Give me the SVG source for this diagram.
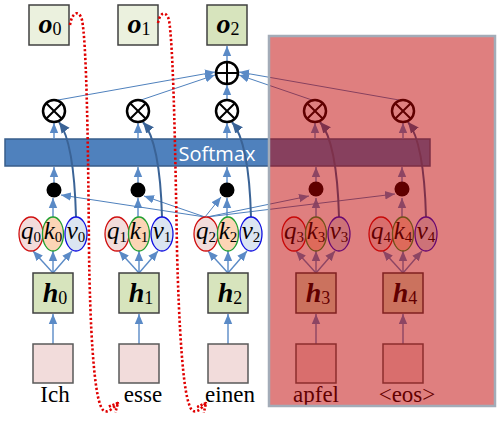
<svg xmlns="http://www.w3.org/2000/svg" width="502" height="424" viewBox="0 0 502 424">
<defs>
<style>
.box{stroke:#404040;stroke-width:1.5}
.out{fill:#ebf1de}
.out2{fill:#d7e4bd}
.hb{fill:#d7e4bd}
.inb{fill:#f2dcdb;stroke:#595959;stroke-width:1.5}
.q{fill:#f2dcdb;stroke:#d01010;stroke-width:1.3}
.k{fill:#fcd5b5;stroke:#20a030;stroke-width:1.3}
.v{fill:#dbe5f1;stroke:#1010e0;stroke-width:1.3}
.op{fill:#fff;stroke:#000;stroke-width:2.5}
.opl{stroke:#000;stroke-width:2}
.ar{stroke:#5a8ac6;stroke-width:1.4;fill:none;marker-end:url(#ma)}
.thin{stroke:#4f81bd;stroke-width:1;fill:none;marker-end:url(#ma)}
.val{stroke:#3a6396;stroke-width:2;fill:none;marker-end:url(#md)}
.red{stroke:#e00000;stroke-width:2.6;stroke-dasharray:2.2 2.2;fill:none;marker-end:url(#mr)}
.m{font-family:"Liberation Serif",serif;font-style:italic;font-size:25px;fill:#000}
.s{font-size:15px;font-style:normal}
.hl{font-family:"Liberation Serif",serif;font-style:italic;font-weight:bold;font-size:28px;fill:#000}
.hs{font-size:18px;font-style:normal;font-weight:normal}
.w{font-family:"Liberation Serif",serif;font-size:23px;fill:#000}
</style>
<marker id="ma" markerUnits="userSpaceOnUse" markerWidth="10" markerHeight="10" viewBox="0 0 10 10" refX="10" refY="5" orient="auto"><path d="M0,0.8 L10,5 L0,9.2 Z" fill="#5a8ac6"/></marker>
<marker id="md" markerUnits="userSpaceOnUse" markerWidth="11" markerHeight="11" viewBox="0 0 10 10" refX="10" refY="5" orient="auto"><path d="M0,0.5 L10,5 L0,9.5 Z" fill="#3a6396"/></marker>
<marker id="mr" markerUnits="userSpaceOnUse" markerWidth="11" markerHeight="11" viewBox="0 0 10 10" refX="9" refY="5" orient="auto"><path d="M1,1 L9,5 L1,9" fill="none" stroke="#e00000" stroke-width="2.4" stroke-dasharray="2 1.5"/></marker>
</defs>
<rect width="502" height="424" fill="#fff"/>

<g id="softmax">
<rect x="5" y="139" width="425" height="27" fill="#4f81bd" stroke="#385d8a" stroke-width="1.5"/>
<text x="217" y="160.5" text-anchor="middle" font-family="'Open Sans',sans-serif" font-size="20" fill="#fff">Softmax</text>
</g>

<g id="connectors">
<line class="ar" x1="53" y1="344" x2="53" y2="314"/>
<line class="ar" x1="139" y1="344" x2="139" y2="314"/>
<line class="ar" x1="228" y1="344" x2="228" y2="314"/>
<line class="ar" x1="316" y1="344" x2="316" y2="314"/>
<line class="ar" x1="403" y1="344" x2="403" y2="314"/>
<line class="ar" x1="53" y1="273" x2="33" y2="251"/><line class="ar" x1="53" y1="273" x2="53" y2="251"/><line class="ar" x1="53" y1="273" x2="72" y2="251"/>
<line class="ar" x1="139" y1="273" x2="119" y2="251"/><line class="ar" x1="139" y1="273" x2="139" y2="251"/><line class="ar" x1="139" y1="273" x2="158" y2="251"/>
<line class="ar" x1="228" y1="273" x2="208" y2="251"/><line class="ar" x1="228" y1="273" x2="228" y2="251"/><line class="ar" x1="228" y1="273" x2="247" y2="251"/>
<line class="ar" x1="316" y1="273" x2="296" y2="251"/><line class="ar" x1="316" y1="273" x2="316" y2="251"/><line class="ar" x1="316" y1="273" x2="335" y2="251"/>
<line class="ar" x1="403" y1="273" x2="383" y2="251"/><line class="ar" x1="403" y1="273" x2="403" y2="251"/><line class="ar" x1="403" y1="273" x2="422" y2="251"/>
<line class="ar" x1="53" y1="217" x2="53" y2="198"/>
<line class="ar" x1="138" y1="217" x2="138" y2="198"/>
<line class="ar" x1="227" y1="217" x2="227" y2="198"/>
<line class="ar" x1="316" y1="217" x2="316" y2="198"/>
<line class="ar" x1="402" y1="217" x2="402" y2="198"/>
<line class="thin" x1="205" y1="217" x2="61" y2="195"/>
<line class="thin" x1="205" y1="217" x2="144" y2="196"/>
<line class="thin" x1="205" y1="217" x2="221" y2="197"/>
<line class="thin" x1="207" y1="217" x2="309" y2="196"/>
<line class="thin" x1="207" y1="217" x2="395" y2="194"/>
<line class="ar" x1="54" y1="183" x2="54" y2="167"/>
<line class="ar" x1="138" y1="183" x2="138" y2="167"/>
<line class="ar" x1="227" y1="183" x2="227" y2="167"/>
<line class="ar" x1="316" y1="183" x2="316" y2="167"/>
<line class="ar" x1="402" y1="183" x2="402" y2="167"/>
<line class="ar" x1="54" y1="139" x2="54" y2="123"/>
<line class="ar" x1="138" y1="139" x2="138" y2="123"/>
<line class="ar" x1="227" y1="139" x2="227" y2="123"/>
<line class="ar" x1="315" y1="139" x2="315" y2="123"/>
<line class="ar" x1="403" y1="139" x2="403" y2="123"/>
<path class="val" d="M76,217 Q74,142 59,122"/>
<path class="val" d="M162,217 Q160,142 143,122"/>
<path class="val" d="M251,217 Q249,142 232,122"/>
<path class="val" d="M339,217 Q337,142 320,122"/>
<path class="val" d="M426,217 Q424,142 408,122"/>
<line class="thin" x1="58" y1="100" x2="215" y2="72"/>
<line class="thin" x1="141" y1="100" x2="215" y2="75"/>
<line class="ar" x1="227" y1="100" x2="227" y2="85"/>
<line class="thin" x1="312" y1="100" x2="239" y2="75"/>
<line class="thin" x1="399" y1="100" x2="239" y2="72"/>
<line class="ar" x1="227" y1="62" x2="227" y2="46"/>
</g>

<g id="o0"><rect class="box out" x="29" y="5" width="40" height="40"/><text class="hl" x="50" y="33" text-anchor="middle">o<tspan class="hs" dy="2">0</tspan></text></g>
<g id="o1"><rect class="box out" x="118" y="5" width="40" height="40"/><text class="hl" x="139" y="33" text-anchor="middle">o<tspan class="hs" dy="2">1</tspan></text></g>
<g id="o2"><rect class="box out2" x="207" y="5" width="40" height="40"/><text class="hl" x="228" y="33" text-anchor="middle">o<tspan class="hs" dy="2">2</tspan></text></g>

<g id="sum"><circle class="op" cx="227" cy="73" r="11"/><line class="opl" x1="216" y1="73" x2="238" y2="73"/><line class="opl" x1="227" y1="62" x2="227" y2="84"/></g>

<g id="mul0"><circle class="op" cx="54" cy="111" r="11"/><path class="opl" d="M46.2,103.2 L61.8,118.8 M61.8,103.2 L46.2,118.8"/></g>
<g id="mul1"><circle class="op" cx="138" cy="111" r="11"/><path class="opl" d="M130.2,103.2 L145.8,118.8 M145.8,103.2 L130.2,118.8"/></g>
<g id="mul2"><circle class="op" cx="227" cy="111" r="11"/><path class="opl" d="M219.2,103.2 L234.8,118.8 M234.8,103.2 L219.2,118.8"/></g>
<g id="mul3"><circle class="op" cx="315" cy="111" r="11"/><path class="opl" d="M307.2,103.2 L322.8,118.8 M322.8,103.2 L307.2,118.8"/></g>
<g id="mul4"><circle class="op" cx="403" cy="111" r="11"/><path class="opl" d="M395.2,103.2 L410.8,118.8 M410.8,103.2 L395.2,118.8"/></g>

<g id="dot0"><circle cx="54" cy="190" r="7.5" fill="#000"/></g>
<g id="dot1"><circle cx="138" cy="190" r="7.5" fill="#000"/></g>
<g id="dot2"><circle cx="227" cy="190" r="7.5" fill="#000"/></g>
<g id="dot3"><circle cx="316" cy="189" r="7.5" fill="#000"/></g>
<g id="dot4"><circle cx="402" cy="189" r="7.5" fill="#000"/></g>

<g id="qkv0">
<ellipse class="q" cx="31" cy="234" rx="12" ry="17"/><text class="m" x="31" y="239" text-anchor="middle">q<tspan class="s" dy="3">0</tspan></text>
<ellipse class="k" cx="53" cy="234" rx="10.5" ry="17"/><text class="m" x="53" y="239" text-anchor="middle">k<tspan class="s" dy="3">0</tspan></text>
<ellipse class="v" cx="76" cy="234" rx="11" ry="17"/><text class="m" x="76" y="239" text-anchor="middle">v<tspan class="s" dy="3">0</tspan></text>
</g>
<g id="qkv1">
<ellipse class="q" cx="117" cy="234" rx="12" ry="17"/><text class="m" x="117" y="239" text-anchor="middle">q<tspan class="s" dy="3">1</tspan></text>
<ellipse class="k" cx="139" cy="234" rx="10.5" ry="17"/><text class="m" x="139" y="239" text-anchor="middle">k<tspan class="s" dy="3">1</tspan></text>
<ellipse class="v" cx="162" cy="234" rx="11" ry="17"/><text class="m" x="162" y="239" text-anchor="middle">v<tspan class="s" dy="3">1</tspan></text>
</g>
<g id="qkv2">
<ellipse class="q" cx="206" cy="234" rx="12" ry="17"/><text class="m" x="206" y="239" text-anchor="middle">q<tspan class="s" dy="3">2</tspan></text>
<ellipse class="k" cx="228" cy="234" rx="10.5" ry="17"/><text class="m" x="228" y="239" text-anchor="middle">k<tspan class="s" dy="3">2</tspan></text>
<ellipse class="v" cx="251" cy="234" rx="11" ry="17"/><text class="m" x="251" y="239" text-anchor="middle">v<tspan class="s" dy="3">2</tspan></text>
</g>
<g id="qkv3">
<ellipse class="q" cx="294" cy="234" rx="12" ry="17"/><text class="m" x="294" y="239" text-anchor="middle">q<tspan class="s" dy="3">3</tspan></text>
<ellipse class="k" cx="316" cy="234" rx="10.5" ry="17"/><text class="m" x="316" y="239" text-anchor="middle">k<tspan class="s" dy="3">3</tspan></text>
<ellipse class="v" cx="339" cy="234" rx="11" ry="17"/><text class="m" x="339" y="239" text-anchor="middle">v<tspan class="s" dy="3">3</tspan></text>
</g>
<g id="qkv4">
<ellipse class="q" cx="381" cy="234" rx="12" ry="17"/><text class="m" x="381" y="239" text-anchor="middle">q<tspan class="s" dy="3">4</tspan></text>
<ellipse class="k" cx="403" cy="234" rx="10.5" ry="17"/><text class="m" x="403" y="239" text-anchor="middle">k<tspan class="s" dy="3">4</tspan></text>
<ellipse class="v" cx="426" cy="234" rx="11" ry="17"/><text class="m" x="426" y="239" text-anchor="middle">v<tspan class="s" dy="3">4</tspan></text>
</g>

<g id="h0"><rect class="box hb" x="33" y="273" width="40" height="40"/><text class="hl" x="55" y="302" text-anchor="middle">h<tspan class="hs" dy="2">0</tspan></text></g>
<g id="h1"><rect class="box hb" x="119" y="273" width="40" height="40"/><text class="hl" x="141" y="302" text-anchor="middle">h<tspan class="hs" dy="2">1</tspan></text></g>
<g id="h2"><rect class="box hb" x="208" y="273" width="40" height="40"/><text class="hl" x="230" y="302" text-anchor="middle">h<tspan class="hs" dy="2">2</tspan></text></g>
<g id="h3"><rect class="box hb" x="296" y="273" width="40" height="40"/><text class="hl" x="318" y="302" text-anchor="middle">h<tspan class="hs" dy="2">3</tspan></text></g>
<g id="h4"><rect class="box hb" x="383" y="273" width="40" height="40"/><text class="hl" x="405" y="302" text-anchor="middle">h<tspan class="hs" dy="2">4</tspan></text></g>

<g id="x0"><rect class="inb" x="33" y="344" width="40" height="39"/><text class="w" x="55" y="402" text-anchor="middle">Ich</text></g>
<g id="x1"><rect class="inb" x="119" y="344" width="40" height="39"/><text class="w" x="143" y="402" text-anchor="middle">esse</text></g>
<g id="x2"><rect class="inb" x="208" y="344" width="40" height="39"/><text class="w" x="230" y="402" text-anchor="middle">einen</text></g>
<g id="x3"><rect class="inb" x="296" y="344" width="40" height="39"/><text class="w" x="316" y="402" text-anchor="middle">apfel</text></g>
<g id="x4"><rect class="inb" x="383" y="344" width="40" height="39"/><text class="w" x="407" y="402" text-anchor="middle">&lt;eos&gt;</text></g>

<g id="feedback">
<path class="red" d="M70,25 C72,12 79,9 82,20 C86,40 88,120 89,250 C90,330 94,388 100,404 C103,414 108,414 118,403"/>
<path class="red" d="M158,23 C160,12 166,10 169,20 C173,45 175,130 177,250 C179,330 183,388 189,404 C192,414 197,414 206,403"/>
</g>

<g id="masked">
<rect x="269" y="36" width="226" height="370" fill="#c00000" fill-opacity="0.5" stroke="#a3acb8" stroke-width="2.5"/>
</g>
</svg>
